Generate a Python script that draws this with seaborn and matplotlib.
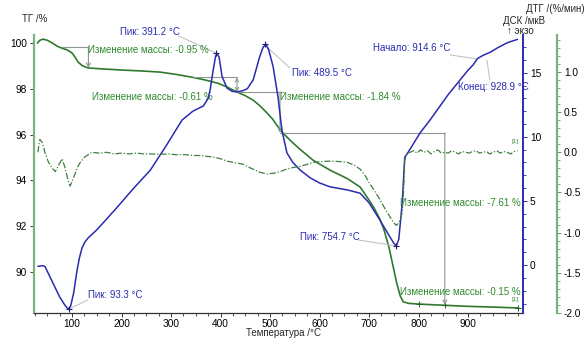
import matplotlib
matplotlib.use("Agg")
import matplotlib.pyplot as plt
import seaborn as sns
import pandas as pd
from matplotlib.ticker import MultipleLocator, FormatStrFormatter

# ---------------- data ----------------
tg_temp = [30, 35, 41, 50, 60, 70, 80, 90, 100, 106, 112, 120, 126, 133, 160, 200, 240,
           278, 310, 344, 370, 395, 413, 433, 450, 466, 480, 494, 505, 514, 526, 543, 561,
           587, 621, 656, 682, 700, 710, 722, 730, 740, 748, 756, 763, 769, 780, 800, 850,
           900, 950, 1000]
tg_val = [100.00, 100.12, 100.17, 100.12, 100.0, 99.86, 99.77, 99.70, 99.56, 99.38, 99.17,
          99.02, 98.96, 98.91, 98.87, 98.82, 98.78, 98.73, 98.63, 98.50, 98.38, 98.24, 98.08,
          97.86, 97.70, 97.50, 97.25, 96.94, 96.68, 96.40, 96.07, 95.70, 95.35, 94.88, 94.45,
          94.08, 93.71, 93.14, 92.80, 92.30, 91.85, 91.10, 90.30, 89.50, 88.95, 88.70, 88.63,
          88.60, 88.55, 88.50, 88.47, 88.43]

dsc_temp = [31, 40, 45, 55, 65, 75, 85, 92, 97, 103, 110, 115, 120, 126, 132, 150, 170, 191,
            220, 258, 290, 322, 344, 365, 375, 379, 385, 390, 393, 397, 403, 413, 423, 433,
            445, 454, 466, 479, 486, 492, 497, 506, 516, 524, 534, 546, 561, 581, 600, 621,
            656, 682, 700, 722, 742, 750, 755, 760, 767, 772, 779, 803, 823, 860, 900, 910,
            919, 930, 945, 960, 980, 1000]
dsc_val = [-0.1, -0.05, -0.1, -0.9, -1.7, -2.5, -3.1, -3.45, -3.2, -2.2, -0.4, 0.6, 1.33,
           1.8, 2.1, 2.75, 3.6, 4.5, 5.8, 7.4, 9.3, 11.3, 12.0, 12.4, 13.0, 13.7, 15.2, 16.3,
           16.5, 16.2, 14.7, 13.8, 13.55, 13.5, 13.6, 13.75, 14.45, 16.25, 17.0, 17.2, 16.8,
           15.5, 13.1, 10.5, 8.75, 8.0, 7.4, 6.8, 6.4, 6.1, 5.86, 5.6, 4.85, 3.5, 2.2, 1.7,
           1.5, 2.0, 4.85, 8.4, 8.8, 10.3, 11.3, 13.3, 15.2, 15.6, 16.1, 16.35, 16.6, 16.95,
           17.35, 17.6]

dtg_temp = [31, 33, 35, 40, 45, 52, 60, 66, 72, 80, 86, 92, 96, 102, 110, 116, 125, 140,
            155, 170, 185, 200, 215, 230, 245, 260, 278, 295, 310, 330, 344, 360, 385, 400,
            413, 430, 446, 462, 480, 494, 508, 520, 533, 546, 561, 575, 587, 605, 621, 640,
            656, 670, 682, 691, 700, 711, 722, 732, 742, 749, 755, 760, 764, 767, 770, 772,
            776, 783, 790, 797, 804, 811, 818, 825, 832, 839, 846, 853, 860, 867, 874, 881,
            888, 895, 902, 909, 916, 923, 930, 937, 944, 951, 958, 965, 972, 979, 986, 993,
            1000]
dtg_val = [0.0, 0.1, 0.16, 0.12, 0.0, -0.12, -0.2, -0.24, -0.17, -0.08, -0.2, -0.35, -0.42,
           -0.33, -0.2, -0.13, -0.06, 0.0, -0.01, 0.0, -0.02, -0.01, -0.02, -0.01, -0.02,
           -0.02, -0.025, -0.02, -0.03, -0.03, -0.04, -0.04, -0.06, -0.08, -0.11, -0.13,
           -0.15, -0.2, -0.25, -0.27, -0.26, -0.24, -0.21, -0.19, -0.175, -0.15, -0.125,
           -0.115, -0.11, -0.115, -0.125, -0.16, -0.21, -0.28, -0.375, -0.48, -0.59, -0.7,
           -0.8, -0.87, -0.91, -0.88, -0.82, -0.75, -0.45, -0.1, -0.02, 0.0, 0.02, -0.01,
           0.03, 0.0, 0.02, -0.02, 0.01, 0.03, -0.01, 0.0, -0.01, 0.02, 0.0, -0.02, 0.01,
           0.0, -0.01, 0.01, 0.02, -0.01, 0.0, 0.01, -0.02, 0.0, 0.02, -0.01, 0.01, 0.0,
           -0.02, 0.01, 0.02]

peak_temps = [93.3, 391.2, 489.5, 754.7]
peak_dsc = [-3.45, 16.5, 17.2, 1.5]
peak_labels = ["Пик: 93.3 °C", "Пик: 391.2 °C", "Пик: 489.5 °C", "Пик: 754.7 °C"]
onset_label = "Начало: 914.6 °C"
end_label = "Конец: 928.9 °C"
mass_labels = ["Изменение массы: -0.95 %", "Изменение массы: -0.61 %",
               "Изменение массы: -1.84 %", "Изменение массы: -7.61 %",
               "Изменение массы: -0.15 %"]
x_ticks = [100, 200, 300, 400, 500, 600, 700, 800, 900]
tg_ticks = [90, 92, 94, 96, 98, 100]
dsc_ticks = [0, 5, 10, 15]
dtg_ticks = [-2.0, -1.5, -1.0, -0.5, 0.0, 0.5, 1.0]

# ---------------- style ----------------
sns.set_style("ticks")
plt.rcParams['font.family'] = ['Liberation Sans', 'DejaVu Sans']
plt.rcParams['font.size'] = 7
plt.rcParams['axes.unicode_minus'] = False

C_TG = "#2f7a2f"
C_DTG = "#3f7f3f"
C_TXT_G = "#2e8b2e"
C_BLUE = "#2b2bb0"
C_MEAS = "#8a9a8a"
C_LEAD = "#c4c4c4"
FS = 7

fig = plt.figure(figsize=(5.88, 3.38), dpi=100)
ax = fig.add_axes([34/588, 25/338, 489/588, 278/338])
ax2 = ax.twinx()
ax3 = ax.twinx()

tg_df = pd.DataFrame({"T": tg_temp, "TG": tg_val})
dsc_df = pd.DataFrame({"T": dsc_temp, "DSC": dsc_val})
dtg_df = pd.DataFrame({"T": dtg_temp, "DTG": dtg_val})

sns.lineplot(data=tg_df, x="T", y="TG", ax=ax, color=C_TG, linewidth=1.2)
sns.lineplot(data=dsc_df, x="T", y="DSC", ax=ax2, color=C_BLUE, linewidth=1.1)
sns.lineplot(data=dtg_df, x="T", y="DTG", ax=ax3, color=C_DTG, linewidth=0.9,
             linestyle=(0, (5, 1.5, 1, 1.5)))
ax2.plot(peak_temps, peak_dsc, linestyle="none", marker="+", color="#1a1a70",
         markersize=5, markeredgewidth=0.8)

# ---------------- axes ----------------
ax.set_xlim(23, 1011)
ax.set_ylim(88.21, 100.35)
ax2.set_ylim(-3.74, 17.94)
ax3.set_ylim(-2.0, 1.46)

ax.set_xticks(x_ticks)
ax.xaxis.set_minor_locator(MultipleLocator(25))
ax.set_yticks(tg_ticks)
ax2.set_yticks(dsc_ticks)
ax2.yaxis.set_minor_locator(MultipleLocator(1))
ax3.set_yticks(dtg_ticks)
ax3.yaxis.set_minor_locator(MultipleLocator(0.1))
ax3.yaxis.set_major_formatter(FormatStrFormatter("%.1f"))

for a in (ax, ax2, ax3):
    a.set_xlabel("")
    a.set_ylabel("")
    a.spines["top"].set_visible(False)

ax.spines["right"].set_visible(False)
ax.spines["left"].set_color("#7fb07f")
ax.spines["left"].set_linewidth(1.6)
ax.spines["bottom"].set_color("#333333")
ax.spines["bottom"].set_linewidth(0.9)
ax.tick_params(axis="x", length=3, width=0.7, colors="#333333", labelsize=FS + 0.3,
               labelcolor="black", pad=1.5)
ax.tick_params(axis="x", which="minor", length=2, width=0.6, colors="#333333")
ax.tick_params(axis="y", length=3, width=0.7, colors="#333333", labelsize=FS + 0.3,
               labelcolor="black", pad=2)

for a in (ax2, ax3):
    a.spines["left"].set_visible(False)
    a.spines["bottom"].set_visible(False)
ax2.spines["right"].set_color(C_BLUE)
ax2.spines["right"].set_linewidth(1.4)
ax2.tick_params(axis="y", length=3, width=0.7, colors=C_BLUE, labelcolor="black",
                labelsize=FS + 0.3, pad=2)
ax2.tick_params(axis="y", which="minor", length=1.8, width=0.6, colors=C_BLUE)

ax3.spines["right"].set_position(("axes", 1 + 34/489))
ax3.spines["right"].set_color("#7fb07f")
ax3.spines["right"].set_linewidth(1.6)
ax3.tick_params(axis="y", length=3, width=0.7, colors="#5f9f5f", labelcolor="black",
                labelsize=FS + 0.3, pad=2)
ax3.tick_params(axis="y", which="minor", length=1.8, width=0.6, colors="#5f9f5f")

# ---------------- axis titles ----------------
fig.text(22/588, 1 - 19/338, "ТГ /%", fontsize=FS, va="center", ha="left")
fig.text(585/588, 1 - 9/338, "ДТГ /(%/мин)", fontsize=FS, va="center", ha="right")
fig.text(503/588, 1 - 21/338, "ДСК /мкВ", fontsize=FS, va="center", ha="left")
fig.text(507/588, 1 - 31/338, "↑ экзо", fontsize=FS, va="center", ha="left")
fig.text(283/588, 1 - 333/338, "Температура /°C", fontsize=FS, va="center", ha="center")

# ---------------- measurement lines (TG) ----------------
ax.plot([80, 133], [99.84, 99.84], color=C_MEAS, lw=0.8)
ax.annotate("", xy=(133, 98.91), xytext=(133, 99.84),
            arrowprops=dict(arrowstyle="->", color=C_MEAS, lw=0.8, shrinkA=0, shrinkB=0))
ax.plot([344, 433], [98.5, 98.5], color=C_MEAS, lw=0.8)
ax.annotate("", xy=(433, 97.86), xytext=(433, 98.5),
            arrowprops=dict(arrowstyle="<->", color=C_MEAS, lw=0.8, shrinkA=0, shrinkB=0,
                            mutation_scale=6))
ax.plot([433, 526], [97.86, 97.86], color=C_MEAS, lw=0.8)
ax.annotate("", xy=(520, 96.07), xytext=(520, 97.86),
            arrowprops=dict(arrowstyle="->", color=C_MEAS, lw=0.8, shrinkA=0, shrinkB=0))
ax.plot([520, 853], [96.07, 96.07], color=C_MEAS, lw=0.8)
ax.annotate("", xy=(853, 88.56), xytext=(853, 96.07),
            arrowprops=dict(arrowstyle="->", color=C_MEAS, lw=0.8, shrinkA=0, shrinkB=0))
ax.plot([800, 853, 1000], [88.6, 88.55, 88.43], linestyle="none", marker="+",
        color="#1f5f1f", markersize=4, markeredgewidth=0.7)

# ---------------- leader lines ----------------
lead = dict(color=C_LEAD, lw=0.8)
ax.plot([315, 391.2], [100.31, 99.56], **lead)
ax.plot([489.5, 540], [99.91, 98.91], **lead)
ax.plot([864, 918], [99.48, 99.30], **lead)
ax.plot([938, 944], [99.26, 98.38], **lead)
ax.plot([678, 754.5], [91.40, 91.14], **lead)
ax.plot([93.3, 132], [88.38, 88.78], **lead)

# ---------------- texts ----------------
tkw = dict(fontsize=FS, va="center", ha="left", clip_on=False)
ax.text(197, 100.48, peak_labels[1], color=C_BLUE, **tkw)
ax.text(544, 98.69, peak_labels[2], color=C_BLUE, **tkw)
ax.text(708, 99.78, onset_label, color=C_BLUE, **tkw)
ax.text(880, 98.08, end_label, color=C_BLUE, **tkw)
ax.text(561, 91.53, peak_labels[3], color=C_BLUE, **tkw)
ax.text(132, 89.00, peak_labels[0], color=C_BLUE, **tkw)

ax.text(133, 99.69, mass_labels[0], color=C_TXT_G, **tkw)
ax.text(140, 97.64, mass_labels[1], color=C_TXT_G, **tkw)
ax.text(520, 97.64, mass_labels[2], color=C_TXT_G, **tkw)
ax.text(763, 93.01, mass_labels[3], color=C_TXT_G, **tkw)
ax.text(763, 89.13, mass_labels[4], color=C_TXT_G, **tkw)
ax.text(1003, 95.72, "[1]", color=C_TXT_G, fontsize=4.5, va="center", ha="right")
ax.text(1003, 88.82, "[1]", color=C_TXT_G, fontsize=4.5, va="center", ha="right")

fig.savefig("out.png", dpi=100)
